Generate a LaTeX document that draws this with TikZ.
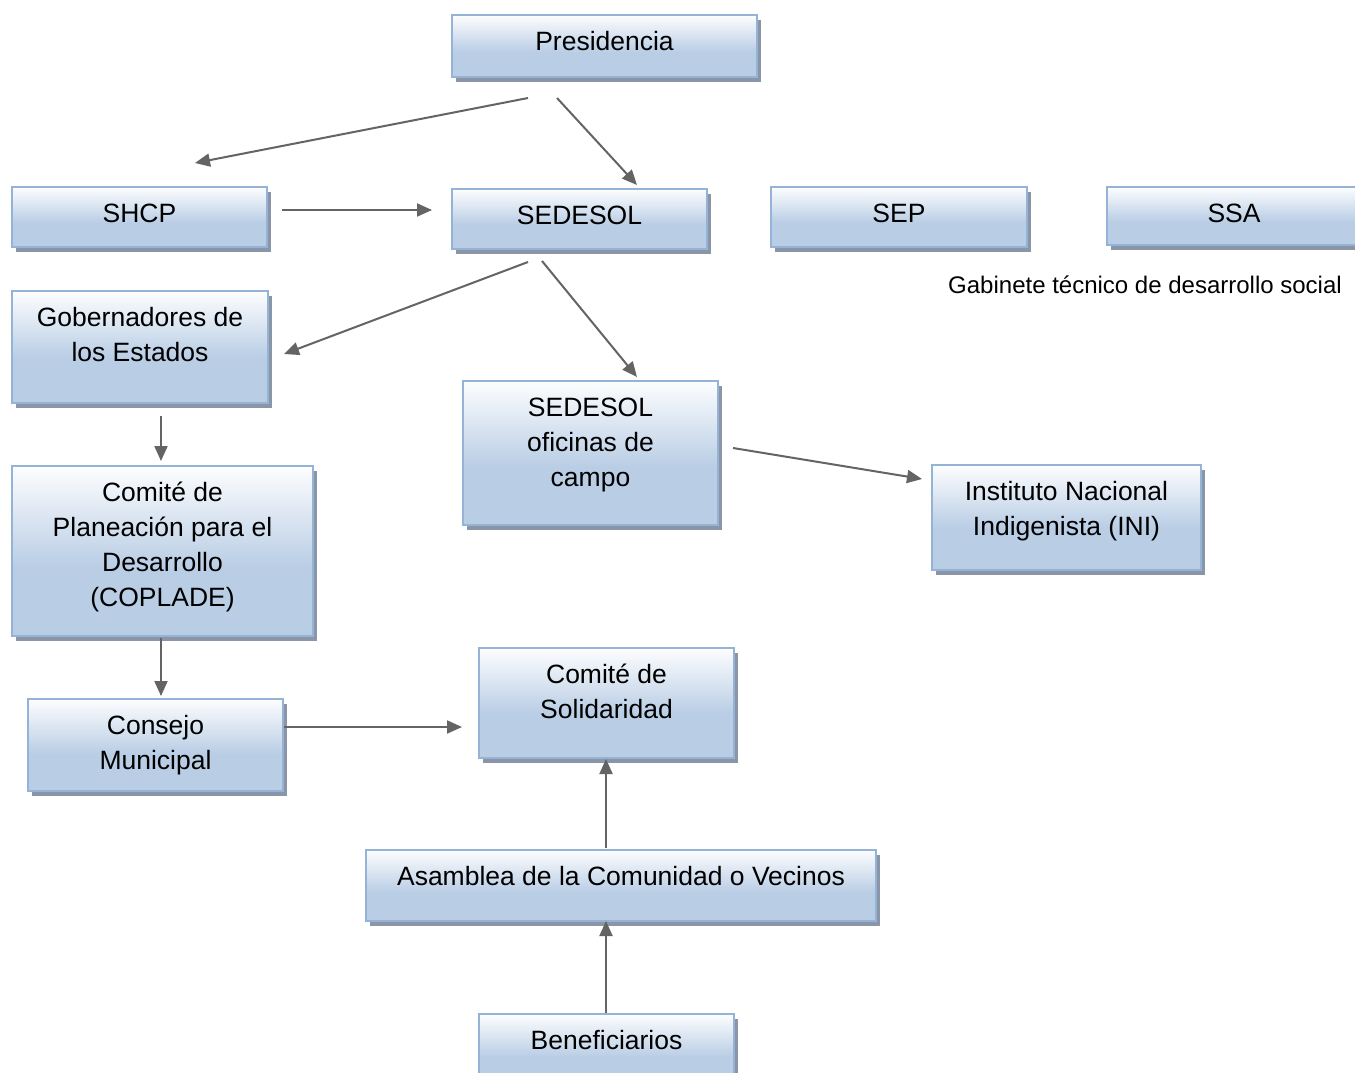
\documentclass[tikz,border=0pt]{standalone}
\usepackage{fontspec}
\setmainfont{Liberation Sans}
\usetikzlibrary{arrows.meta,shadows}
\definecolor{bordc}{RGB}{149,179,215}
\definecolor{fillc}{RGB}{185,205,229}
\definecolor{shadc}{RGB}{138,150,168}
\definecolor{arrc}{RGB}{100,100,100}
\pgfdeclareverticalshading{boxshade}{100bp}{color(0bp)=(fillc); color(25bp)=(fillc); color(45bp)=(fillc); color(75bp)=(white!97!fillc); color(100bp)=(white)}
\tikzset{
  boxst/.style={rectangle, draw=bordc, line width=2pt, shading=boxshade, inner sep=0pt,
    drop shadow={shadow xshift=4pt, shadow yshift=-5pt, fill=shadc, opacity=1}},
  txt/.style={align=center, inner sep=0pt, font=\fontsize{26.5}{35}\selectfont},
  conn/.style={draw=arrc, line width=2pt, -{Triangle[length=15pt,width=13pt]}, fill=arrc}
}
\newcommand\mkbox[6]{%
  \node[boxst, anchor=north west, minimum width=#4pt-#2pt, minimum height=#5pt-#3pt] (#1) at (#2,#3) {};
  \node[txt, anchor=north, yshift=-12pt] (#1-t) at (#1.north) {\strut #6};
}
\begin{document}
\begin{tikzpicture}[x=1pt,y=-1pt]
\useasboundingbox[fill=white] (0,0) rectangle (1355,1073);
\mkbox{pres}{451}{14}{756}{76}{Presidencia}
\mkbox{shcp}{11}{186}{266}{246}{SHCP}
\mkbox{sedesol}{451}{188}{706}{248}{SEDESOL}
\mkbox{sep}{770}{186}{1026}{246}{SEP}
\mkbox{ssa}{1106}{186}{1360}{244}{SSA}
\mkbox{gob}{11}{290}{267}{402}{Gobernadores de\\los Estados}
\mkbox{ofic}{462}{380}{717}{524}{SEDESOL\\oficinas de\\campo}
\mkbox{ini}{931}{464}{1200}{569}{Instituto Nacional\\Indigenista (INI)}
\mkbox{coplade}{11}{465}{312}{635}{Comité de\\Planeación para el\\Desarrollo\\(COPLADE)}
\mkbox{solid}{478}{647}{733}{757}{Comité de\\Solidaridad}
\mkbox{consejo}{27}{698}{282}{790}{Consejo\\Municipal}
\mkbox{asamb}{365}{849}{875}{920}{Asamblea de la Comunidad o Vecinos}
\mkbox{benef}{478}{1013}{733}{1085}{Beneficiarios}
\node[anchor=base, inner sep=0pt, font=\fontsize{24}{30}\selectfont] (gab) at (1145,293) {Gabinete técnico de desarrollo social};
% connector end points
\coordinate (p1s) at (528,98);  \coordinate (p1e) at (195,163);
\coordinate (p2s) at (557,98);  \coordinate (p2e) at (637,185);
\coordinate (p3s) at (282,210); \coordinate (p3e) at (432,210);
\coordinate (p4s) at (528,262); \coordinate (p4e) at (284,354);
\coordinate (p5s) at (542,261); \coordinate (p5e) at (637,377);
\coordinate (p6s) at (161,416); \coordinate (p6e) at (161,461);
\coordinate (p7s) at (733,448); \coordinate (p7e) at (922,479);
\coordinate (p8s) at (161,638); \coordinate (p8e) at (161,696);
\coordinate (p9s) at (284,727); \coordinate (p9e) at (462,727);
\coordinate (p10s) at (606,848); \coordinate (p10e) at (606,759);
\coordinate (p11s) at (606,1013); \coordinate (p11e) at (606,921);
\foreach \i in {1,...,11} {\draw[conn] (p\i s) -- (p\i e);}
\end{tikzpicture}
\end{document}
